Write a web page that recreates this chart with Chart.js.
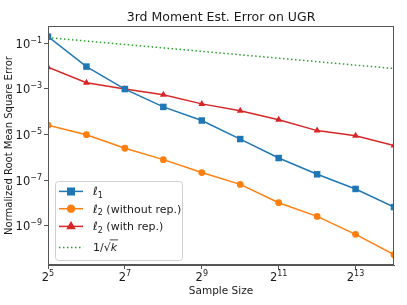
<!DOCTYPE html>
<html lang="en">
<head>
<meta charset="UTF-8">
<title>3rd Moment Est. Error on UGR</title>
<script src="https://cdn.jsdelivr.net/npm/chart.js"></script>
<style>
    html, body { margin: 0; padding: 0; background: #fff; }
</style>
</head>
<body>
<canvas id="errChart" width="407" height="305"></canvas>
<script>
// sample sizes k = 2^5 .. 2^14
const sampleSizes = [32, 64, 128, 256, 512, 1024, 2048, 4096, 8192, 16384];

// errors
const l1Error      = [0.195, 9.5e-3, 9.8e-4, 1.62e-4, 4.1e-5, 6.3e-6, 9.3e-7, 1.8e-7, 4.1e-8, 6.6e-9];
const l2NoRepError = [2.57e-5, 9.8e-6, 2.5e-6, 7.9e-7, 2.14e-7, 6.5e-8, 1.02e-8, 2.57e-9, 4.2e-10, 5.4e-11];
const l2RepError   = [8.9e-3, 1.87e-3, 9.8e-4, 5.5e-4, 2.2e-4, 1.09e-4, 4.4e-5, 1.48e-5, 8.9e-6, 3.3e-6];
const invSqrtK     = [0.177, 0.125, 0.0884, 0.0625, 0.0442, 0.0313, 0.0221, 0.0156, 0.0110, 0.0078];

const seriesLabels = ['ℓ₁', 'ℓ₂ (without rep.)', 'ℓ₂ (with rep.)', '1/√k'];
const chartTitle = '3rd Moment Est. Error on UGR';

const xTickValues = [32, 128, 512, 2048, 8192];
const xTickBase = '2';
const xTickExps = ['5', '7', '9', '11', '13'];
const yTickValues = [1e-1, 1e-3, 1e-5, 1e-7, 1e-9];
const yTickBase = '10';
const yTickExps = ['−1', '−3', '−5', '−7', '−9'];

const FONT = 'DejaVu Sans';
const frameColor = '#555';
const textColor = '#1a1a1a';

function pts(ys) {
    return sampleSizes.map((x, i) => ({ x: x, y: ys[i] }));
}

// draw a run of text pieces (for super/subscripts), baseline at y
function drawRich(c, parts, x, y, align) {
    let w = 0;
    parts.forEach(p => {
        c.font = (p.italic ? 'italic ' : '') + p.size + 'px "' + FONT + '"';
        p.w = c.measureText(p.t).width;
        w += p.w;
    });
    let cx = align === 'right' ? x - w : align === 'center' ? x - w / 2 : x;
    c.textAlign = 'left';
    c.textBaseline = 'alphabetic';
    parts.forEach(p => {
        c.font = (p.italic ? 'italic ' : '') + p.size + 'px "' + FONT + '"';
        c.fillText(p.t, cx, y + (p.dy || 0));
        p.x = cx;
        cx += p.w;
    });
    return parts;
}

// legend label pieces built from the label strings
function labelParts(label) {
    if (label.startsWith('ℓ')) {
        const sub = label[1] === '₁' ? '1' : '2';
        return [
            { t: 'ℓ', size: 11.5, italic: true },
            { t: sub, size: 8, dy: 2.5 },
            { t: label.slice(2), size: 11 }
        ];
    }
    return [
        { t: '1/√', size: 11 },
        { t: 'k', size: 11, italic: true, over: true }
    ];
}

// title, box around the plot area and tick labels with exponents
const framePlugin = {
    id: 'frame',
    afterDatasetsDraw(chart) {
        const a = chart.chartArea, c = chart.ctx;
        c.save();
        c.strokeStyle = frameColor;
        c.lineWidth = 1;
        c.strokeRect(Math.round(a.left) + 0.5, Math.round(a.top) + 0.5,
                     Math.round(a.right - a.left) - 1, Math.round(a.bottom - a.top) - 1);

        c.fillStyle = textColor;
        drawRich(c, [{ t: chartTitle, size: 12.5 }], (a.left + a.right) / 2, 20.5, 'center');

        const xs = chart.scales.x, ys = chart.scales.y;
        xTickValues.forEach((v, i) => {
            drawRich(c, [
                { t: xTickBase, size: 11.5 },
                { t: xTickExps[i], size: 8, dy: -5 }
            ], xs.getPixelForValue(v), a.bottom + 15.5, 'center');
        });
        yTickValues.forEach((v, i) => {
            drawRich(c, [
                { t: yTickBase, size: 11.5 },
                { t: yTickExps[i], size: 8, dy: -5 }
            ], a.left - 6, ys.getPixelForValue(v) + 4.5, 'right');
        });
        c.restore();
    }
};

// legend inside the axes, lower left
const legendPlugin = {
    id: 'innerLegend',
    afterDraw(chart) {
        const a = chart.chartArea, c = chart.ctx;
        const bx = a.left + 7, by = a.bottom - 84, bw = 127, bh = 79;
        c.save();
        c.beginPath();
        c.roundRect(bx + 0.5, by + 0.5, bw, bh, 3);
        c.fillStyle = 'rgba(255,255,255,0.8)';
        c.fill();
        c.strokeStyle = '#d0d0d0';
        c.lineWidth = 1;
        c.stroke();
        const rows = [a.bottom - 73.6, a.bottom - 56.3, a.bottom - 38.6, a.bottom - 17.6];
        chart.data.datasets.forEach((ds, i) => {
            const y = rows[i];
            c.beginPath();
            c.setLineDash(ds.borderDash || []);
            c.strokeStyle = ds.borderColor;
            c.lineWidth = ds.borderWidth;
            c.moveTo(a.left + 11, y);
            c.lineTo(a.left + 35, y);
            c.stroke();
            c.setLineDash([]);
            if (ds.pointRadius > 0) {
                Chart.helpers.drawPoint(c, {
                    pointStyle: ds.pointStyle, radius: ds.pointRadius, borderWidth: 1
                }, a.left + 23, y);
                c.fillStyle = ds.backgroundColor;
                c.fill();
            }
            c.fillStyle = textColor;
            const parts = drawRich(c, labelParts(ds.label), a.left + 45, y + 4, 'left');
            const o = parts.find(p => p.over);
            if (o) {
                c.strokeStyle = textColor;
                c.lineWidth = 0.8;
                c.beginPath();
                c.moveTo(o.x - 1, y - 7.5);
                c.lineTo(o.x + o.w + 1, y - 7.5);
                c.stroke();
            }
        });
        c.restore();
    }
};

const ctx = document.getElementById('errChart').getContext('2d');
const errChart = new Chart(ctx, {
    type: 'line',
    data: {
        datasets: [{
            label: seriesLabels[0],
            data: pts(l1Error),
            borderColor: '#1f77b4',
            backgroundColor: '#1f77b4',
            borderWidth: 1.5,
            pointStyle: 'rect',
            pointRadius: 4.6,
            pointBorderWidth: 0
        }, {
            label: seriesLabels[1],
            data: pts(l2NoRepError),
            borderColor: '#ff7f0e',
            backgroundColor: '#ff7f0e',
            borderWidth: 1.5,
            pointStyle: 'circle',
            pointRadius: 3.4,
            pointBorderWidth: 0
        }, {
            label: seriesLabels[2],
            data: pts(l2RepError),
            borderColor: '#d62728',
            backgroundColor: '#d62728',
            borderWidth: 1.5,
            pointStyle: 'triangle',
            pointRadius: 4,
            pointBorderWidth: 0
        }, {
            label: seriesLabels[3],
            data: pts(invSqrtK),
            borderColor: '#2ca02c',
            backgroundColor: '#2ca02c',
            borderWidth: 1.5,
            borderDash: [1.5, 2.5],
            pointRadius: 0
        }]
    },
    options: {
        responsive: false,
        animation: false,
        devicePixelRatio: 1,
        layout: { padding: { left: 0, right: 13, top: 26, bottom: 0 } },
        plugins: {
            legend: { display: false },
            tooltip: { enabled: false },
            title: { display: false }
        },
        scales: {
            x: {
                type: 'logarithmic',
                min: 32,
                max: 16384,
                bounds: 'data',
                grid: { display: true, drawOnChartArea: false, drawTicks: true, tickLength: 4, color: frameColor },
                border: { display: true, color: frameColor },
                ticks: {
                    autoSkip: false, maxRotation: 0, padding: 2,
                    font: { family: FONT, size: 11 },
                    callback: () => ''
                },
                title: {
                    display: true, text: 'Sample Size', color: textColor,
                    font: { family: FONT, size: 10.5 },
                    padding: { top: 0, bottom: 7 }
                },
                afterBuildTicks: s => { s.ticks = xTickValues.map(v => ({ value: v })); },
                afterFit: s => { s.height = 40; }
            },
            y: {
                type: 'logarithmic',
                min: 1.9e-11,
                max: 0.571,
                bounds: 'data',
                grid: { display: true, drawOnChartArea: false, drawTicks: true, tickLength: 4, color: frameColor },
                border: { display: true, color: frameColor },
                ticks: {
                    autoSkip: false, padding: 2,
                    font: { family: FONT, size: 11 },
                    callback: () => ''
                },
                title: {
                    display: true, text: 'Normalized Root Mean Square Error', color: textColor,
                    font: { family: FONT, size: 10 },
                    padding: { top: 3, bottom: 0 }
                },
                afterBuildTicks: s => { s.ticks = yTickValues.map(v => ({ value: v })); },
                afterFit: s => { s.width = 48; }
            }
        }
    },
    plugins: [framePlugin, legendPlugin]
});
</script>
</body>
</html>
